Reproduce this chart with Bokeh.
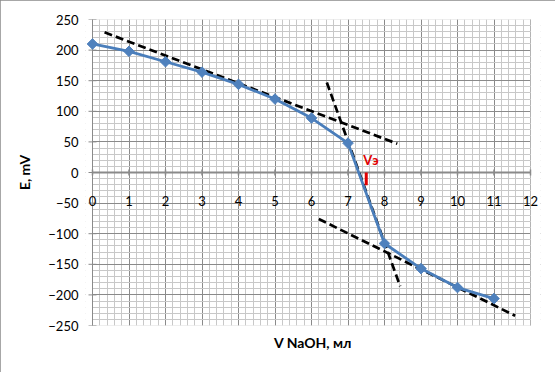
from bokeh.plotting import figure
from bokeh.models import Range1d, FixedTicker, ColumnDataSource, LabelSet, Label, BoxAnnotation
from bokeh.core.properties import value
from bokeh.embed import file_html
from bokeh.resources import INLINE

# titration data
v_naoh = [0, 1, 2, 3, 4, 5, 6, 7, 8, 9, 10, 11]
e_mv = [210, 198, 181, 164, 144, 120, 89, 48, -116, -157, -188, -206]

# ticks
x_ticks = [0, 1, 2, 3, 4, 5, 6, 7, 8, 9, 10, 11, 12]
x_tick_labels = ["0", "1", "2", "3", "4", "5", "6", "7", "8", "9", "10", "11", "12"]
x_minor_ticks = [i / 5 for i in range(0, 61)]
y_ticks = [-250, -200, -150, -100, -50, 0, 50, 100, 150, 200, 250]
y_minor_ticks = list(range(-250, 251, 10))

# graphical construction (dashed tangents)
tangent_upper_x = [0.33, 8.35]
tangent_upper_y = [229, 47]
tangent_steep_x = [6.42, 8.43]
tangent_steep_y = [147, -186]
tangent_lower_x = [6.2, 11.58]
tangent_lower_y = [-76, -234]

# equivalence point marker
ve_x = [7.5, 7.5]
ve_y = [0, -21]
ve_label = "Vэ"
ve_label_x = 7.42
ve_label_y = 21

FONT = "Lato"
MAJOR = "#8a8a8a"
MINOR = "#c8c8c8"

x_lo, x_hi = x_ticks[0], x_ticks[-1]
y_lo, y_hi = y_ticks[0], y_ticks[-1]
PX = 36.5  # pixels per x unit; frame padded so edge marks/labels are not clipped

p = figure(width=555, height=372,
           x_range=Range1d(x_lo - 7 / PX, x_hi + 10 / PX), y_range=Range1d(y_lo, y_hi),
           output_backend="svg", toolbar_location=None,
           min_border_left=85, min_border_right=15, min_border_top=19, min_border_bottom=47)
p.styles = {"outline": "1px solid #8a8a8a", "outline-offset": "-1px"}
p.outline_line_color = None
p.background_fill_color = "white"
p.border_fill_color = "white"

# grids
p.xgrid.ticker = FixedTicker(ticks=x_ticks, minor_ticks=x_minor_ticks)
p.ygrid.ticker = FixedTicker(ticks=y_ticks, minor_ticks=y_minor_ticks)
for g in (p.xgrid, p.ygrid):
    g.grid_line_color = MAJOR
    g.grid_line_width = 1
    g.minor_grid_line_color = MINOR
    g.minor_grid_line_width = 1

# mask the padding strips and draw the plot-area border
for kw in (dict(right=x_lo), dict(left=x_hi)):
    p.add_layout(BoxAnnotation(fill_color="white", fill_alpha=1, line_color=None,
                               level="underlay", **kw))
p.add_layout(BoxAnnotation(left=x_lo, right=x_hi, bottom=y_lo, top=y_hi, fill_alpha=0,
                           line_color=MAJOR, line_width=1, level="underlay"))

# y axis (labels only; axis line drawn at x = 0)
p.yaxis.ticker = FixedTicker(ticks=y_ticks)
p.yaxis.axis_line_color = None
p.yaxis.major_tick_line_color = None
p.yaxis.major_tick_out = 0
p.yaxis.major_tick_in = 0
p.yaxis.minor_tick_line_color = None
p.yaxis.major_label_text_font = FONT
p.yaxis.major_label_text_font_size = "13px"
p.yaxis.major_label_text_color = "black"
p.yaxis.major_label_standoff = 7
p.yaxis.axis_label = "E, mV"
p.yaxis.axis_label_text_font = FONT
p.yaxis.axis_label_text_font_size = "14px"
p.yaxis.axis_label_text_font_style = "bold"
p.yaxis.axis_label_text_color = "black"
p.yaxis.axis_label_standoff = 12

# x axis (title only; tick labels drawn at y = 0)
p.xaxis.ticker = FixedTicker(ticks=[])
p.xaxis.axis_line_color = None
p.xaxis.major_tick_line_color = None
p.xaxis.minor_tick_line_color = None
p.xaxis.axis_label = "V NaOH, мл"
p.xaxis.axis_label_text_font = FONT
p.xaxis.axis_label_text_font_size = "14px"
p.xaxis.axis_label_text_font_style = "bold"
p.xaxis.axis_label_text_color = "black"
p.xaxis.axis_label_standoff = 8

# axis lines at x = 0 and y = 0, with tick marks
p.line([x_lo, x_lo], [y_lo, y_hi], line_color=MAJOR, line_width=1)
p.scatter(x=[x_lo] * len(y_ticks), y=y_ticks, marker="dash", size=8, line_color=MAJOR, line_width=1)
p.line([x_lo, x_hi], [0, 0], line_color=MAJOR, line_width=2)
p.scatter(x=x_ticks, y=[0] * len(x_ticks), marker="dash", angle=1.5708, size=6,
          line_color=MAJOR, line_width=1.5)

tick_src = ColumnDataSource(dict(x=x_ticks, y=[0] * len(x_ticks), t=x_tick_labels))
p.add_layout(LabelSet(x="x", y="y", text="t", source=tick_src, text_align="center",
                      text_baseline="middle", y_offset=-28, text_font=value(FONT),
                      text_font_size="13px", text_color="black"))

# tangents
for tx, ty in ((tangent_upper_x, tangent_upper_y), (tangent_steep_x, tangent_steep_y),
               (tangent_lower_x, tangent_lower_y)):
    p.line(tx, ty, line_color="black", line_width=2.7, line_dash="8 4")

# data
p.line(v_naoh, e_mv, line_color="#4a7ebb", line_width=2.8)
p.scatter(v_naoh, e_mv, marker="square", angle=0.7854, size=7.5,
          fill_color="#4f81bd", line_color="#4f81bd", line_width=1)

# equivalence marker
p.line(ve_x, ve_y, line_color="#e00000", line_width=3)
p.add_layout(Label(x=ve_label_x, y=ve_label_y, text=ve_label, text_align="left",
                   text_baseline="middle", text_font=FONT, text_font_size="13px",
                   text_font_style="bold", text_color="#e00000"))

open("out.html", "w").write(file_html(p, INLINE))
